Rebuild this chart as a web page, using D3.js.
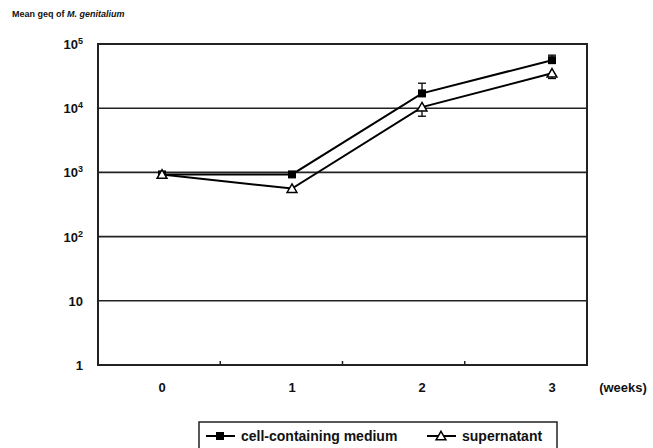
<!DOCTYPE html>
<head>
<meta charset="utf-8">
<style>
body { margin: 0; background: #fff; }
text { font-family: "Liberation Sans", Arial, sans-serif; font-weight: bold; fill: #111; }
</style>
</head>
<body>
<script src="https://cdn.jsdelivr.net/npm/d3@7"></script>
<script>
// data
var weeks = [0, 1, 2, 3];
var cellMedium = [930, 930, 17000, 56000];
var cellMediumUp = [null, null, 24500, 67000];
var supernatant = [930, 560, 10400, 35000];
var supernatantDown = [null, null, 7500, 29000];
var yTicks = [1, 10, 100, 1000, 10000, 100000];

var width = 653, height = 448;
var pLeft = 98, pRight = 587, pTop = 44, pBottom = 365;

var svg = d3.select("body").append("svg")
    .attr("width", width)
    .attr("height", height);

var y = d3.scaleLog().domain([1, 1e5]).range([pBottom, pTop]);
var x = d3.scaleLinear().domain([0, 3]).range([162, 552]);
var band = d3.scaleBand().domain(weeks).range([pLeft, pRight]);

// title
var t = svg.append("text").attr("x", 12).attr("y", 17).style("font-size", "9px");
t.append("tspan").text("Mean geq of ");
t.append("tspan").style("font-style", "italic").text("M. genitalium");

// gridlines
svg.selectAll(".grid").data(yTicks.slice(1, 5)).enter().append("line")
    .attr("x1", pLeft).attr("x2", pRight)
    .attr("y1", function (d) { return y(d); })
    .attr("y2", function (d) { return y(d); })
    .attr("stroke", "#222").attr("stroke-width", 1.6);

// frame
svg.append("rect")
    .attr("x", pLeft).attr("y", pTop)
    .attr("width", pRight - pLeft).attr("height", pBottom - pTop)
    .attr("fill", "none").attr("stroke", "#222").attr("stroke-width", 2);

// y labels
yTicks.forEach(function (d) {
    var e = Math.round(Math.log10(d));
    var lab = svg.append("text")
        .attr("x", 83).attr("y", y(d) + 5)
        .attr("text-anchor", "end")
        .style("font-size", "13px");
    if (e <= 1) {
        lab.text(d);
    } else {
        lab.append("tspan").text("10");
        lab.append("tspan").attr("dy", -5).style("font-size", "9px").text(e);
    }
});

// x ticks at band boundaries
weeks.slice(1).forEach(function (w) {
    svg.append("line")
        .attr("x1", band(w)).attr("x2", band(w))
        .attr("y1", pBottom).attr("y2", pBottom - 4)
        .attr("stroke", "#222").attr("stroke-width", 1.5);
});

// x labels
svg.selectAll(".xl").data(weeks).enter().append("text")
    .attr("x", function (d) { return x(d); })
    .attr("y", 392)
    .attr("text-anchor", "middle")
    .style("font-size", "13px")
    .text(function (d) { return d; });
svg.append("text").attr("x", 623).attr("y", 392)
    .attr("text-anchor", "middle").style("font-size", "13px").text("(weeks)");

var line = d3.line()
    .x(function (d, i) { return x(weeks[i]); })
    .y(function (d) { return y(d); });

function errBars(vals, ends) {
    vals.forEach(function (v, i) {
        if (ends[i] == null) return;
        var cx = x(weeks[i]);
        svg.append("line")
            .attr("x1", cx).attr("x2", cx)
            .attr("y1", y(v)).attr("y2", y(ends[i]))
            .attr("stroke", "#000").attr("stroke-width", 1.3);
        svg.append("line")
            .attr("x1", cx - 4).attr("x2", cx + 4)
            .attr("y1", y(ends[i])).attr("y2", y(ends[i]))
            .attr("stroke", "#000").attr("stroke-width", 1.3);
    });
}

errBars(cellMedium, cellMediumUp);
errBars(supernatant, supernatantDown);

svg.append("path").datum(cellMedium)
    .attr("d", line).attr("fill", "none")
    .attr("stroke", "#000").attr("stroke-width", 2);
svg.append("path").datum(supernatant)
    .attr("d", line).attr("fill", "none")
    .attr("stroke", "#000").attr("stroke-width", 2);

var sq = d3.symbol().type(d3.symbolSquare).size(64);
var tri = d3.symbol().type(d3.symbolTriangle).size(42);

svg.selectAll(".sq").data(cellMedium).enter().append("path")
    .attr("d", sq)
    .attr("transform", function (d, i) { return "translate(" + x(weeks[i]) + "," + y(d) + ")"; })
    .attr("fill", "#000");
svg.selectAll(".tri").data(supernatant).enter().append("path")
    .attr("d", tri)
    .attr("transform", function (d, i) { return "translate(" + x(weeks[i]) + "," + (y(d) + 1) + ")"; })
    .attr("fill", "#fff").attr("stroke", "#000").attr("stroke-width", 1.5);

// legend
svg.append("rect")
    .attr("x", 199).attr("y", 422).attr("width", 358).attr("height", 30)
    .attr("fill", "#fff").attr("stroke", "#222").attr("stroke-width", 1.5);
svg.append("line").attr("x1", 206).attr("x2", 235).attr("y1", 436).attr("y2", 436)
    .attr("stroke", "#000").attr("stroke-width", 2);
svg.append("path").attr("d", sq).attr("transform", "translate(220,436)").attr("fill", "#000");
svg.append("text").attr("x", 241).attr("y", 441).style("font-size", "14px").text("cell-containing medium");
svg.append("line").attr("x1", 427).attr("x2", 456).attr("y1", 436).attr("y2", 436)
    .attr("stroke", "#000").attr("stroke-width", 2);
svg.append("path").attr("d", tri).attr("transform", "translate(441,437)")
    .attr("fill", "#fff").attr("stroke", "#000").attr("stroke-width", 1.5);
svg.append("text").attr("x", 462).attr("y", 441).style("font-size", "14px").text("supernatant");
</script>
</body>
